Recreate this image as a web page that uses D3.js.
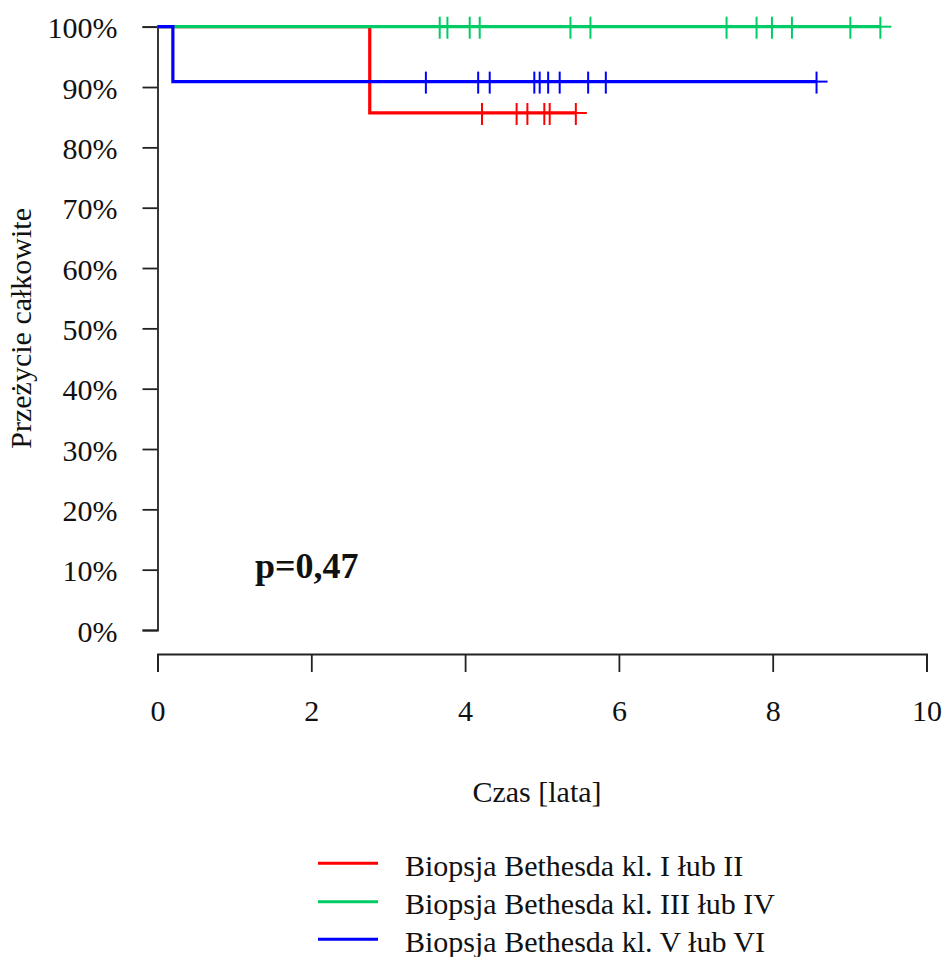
<!DOCTYPE html>
<html>
<head>
<meta charset="utf-8">
<script src="https://cdn.jsdelivr.net/npm/d3@7"></script>
<style>
  html, body { margin: 0; padding: 0; background: #ffffff; }
  svg { display: block; font-family: "Liberation Serif", "Times New Roman", serif; }
</style>
</head>
<body>
<svg id="chart" width="944" height="957"></svg>
<script>
// Kaplan–Meier overall survival by Bethesda biopsy category
const groupLabels = [
  "Biopsja Bethesda kl. I łub II",
  "Biopsja Bethesda kl. III łub IV",
  "Biopsja Bethesda kl. V łub VI"
];
const groupColors = ["#FF0000", "#00CC66", "#0000FF"];

// death times and survival after each death
const eventTimes = [[2.76], [], [0.20]];
const eventSurvival = [[0.857], [], [0.909]];

// censored follow-up times
const censorTimes = [
  [4.22, 4.67, 4.81, 5.03, 5.10, 5.44],
  [3.67, 3.77, 4.06, 4.19, 5.37, 5.63, 7.40, 7.79, 7.99, 8.25, 9.01, 9.40],
  [3.49, 4.17, 4.32, 4.90, 4.97, 5.08, 5.23, 5.60, 5.83, 8.57]
];

const xTicks = [0, 2, 4, 6, 8, 10];
const yTicks = [0, 0.1, 0.2, 0.3, 0.4, 0.5, 0.6, 0.7, 0.8, 0.9, 1.0];
const pValueText = "p=0,47";
const xTitle = "Czas [lata]";
const yTitle = "Przeżycie całkowite";

const svg = d3.select("#chart");
const x = d3.scaleLinear().domain([0, 10]).range([157.5, 926.5]);
const y = d3.scaleLinear().domain([0, 1]).range([630, 26.7]);
const fontSize = 30;

// y axis
const yAxis = svg.append("g")
  .attr("transform", `translate(${x(0)},0)`)
  .call(d3.axisLeft(y).tickValues(yTicks).tickSize(15).tickSizeOuter(15)
    .tickPadding(25).tickFormat(d3.format(".0%")))
  .attr("font-family", null).attr("font-size", fontSize);
yAxis.selectAll("path, line").attr("stroke", "#222").attr("stroke-width", 1.8);
yAxis.selectAll("text").attr("fill", "#111").attr("dy", "0.37em");

// x axis
const xAxisY = 654;
const xAxis = svg.append("g")
  .attr("transform", `translate(0,${xAxisY})`)
  .call(d3.axisBottom(x).tickValues(xTicks).tickSize(18).tickSizeOuter(18)
    .tickPadding(28).tickFormat(d3.format("d")))
  .attr("font-family", null).attr("font-size", fontSize);
xAxis.selectAll("path, line").attr("stroke", "#222").attr("stroke-width", 1.8);
xAxis.selectAll("text").attr("fill", "#111");

// axis titles
svg.append("text")
  .attr("x", 537).attr("y", 802)
  .attr("text-anchor", "middle")
  .attr("font-size", fontSize).attr("fill", "#111")
  .text(xTitle);

svg.append("text")
  .attr("transform", `translate(31,${(y(0) + y(1)) / 2}) rotate(-90)`)
  .attr("text-anchor", "middle")
  .attr("font-size", fontSize).attr("fill", "#111")
  .text(yTitle);

// survival curves
const stepLine = d3.line()
  .x(d => x(d[0])).y(d => y(d[1]))
  .curve(d3.curveStepAfter);

function survivalAt(g, t) {
  let s = 1;
  eventTimes[g].forEach((et, i) => { if (et <= t) s = eventSurvival[g][i]; });
  return s;
}

const plusHalf = 11;
groupLabels.forEach((label, g) => {
  const tEnd = d3.max([...eventTimes[g], ...censorTimes[g]]);
  const pts = [[0, 1]];
  eventTimes[g].forEach((t, i) => pts.push([t, eventSurvival[g][i]]));
  pts.push([tEnd, survivalAt(g, tEnd)]);

  svg.append("path")
    .attr("d", stepLine(pts))
    .attr("fill", "none")
    .attr("stroke", groupColors[g])
    .attr("stroke-width", 3.2);

  // censoring marks drawn as "+"
  const marks = svg.append("g")
    .attr("stroke", groupColors[g])
    .attr("stroke-width", 2);
  censorTimes[g].forEach(t => {
    const cx = x(t), cy = y(survivalAt(g, t));
    marks.append("line")
      .attr("x1", cx).attr("x2", cx)
      .attr("y1", cy - plusHalf + 1).attr("y2", cy + plusHalf + 1);
    marks.append("line")
      .attr("x1", cx - plusHalf).attr("x2", cx + plusHalf)
      .attr("y1", cy).attr("y2", cy);
  });
});

// p-value annotation
svg.append("text")
  .attr("x", 255).attr("y", 578)
  .attr("font-size", 36).attr("font-weight", "bold").attr("fill", "#111")
  .text(pValueText);

// legend
const legendY = [863.3, 901.7, 939.3];
const legend = svg.append("g");
groupLabels.forEach((label, g) => {
  legend.append("line")
    .attr("x1", 318).attr("x2", 378)
    .attr("y1", legendY[g]).attr("y2", legendY[g])
    .attr("stroke", groupColors[g]).attr("stroke-width", 3);
  legend.append("text")
    .attr("x", 405).attr("y", legendY[g] + 12.5)
    .attr("font-size", fontSize).attr("fill", "#111")
    .text(label);
});
</script>
</body>
</html>
